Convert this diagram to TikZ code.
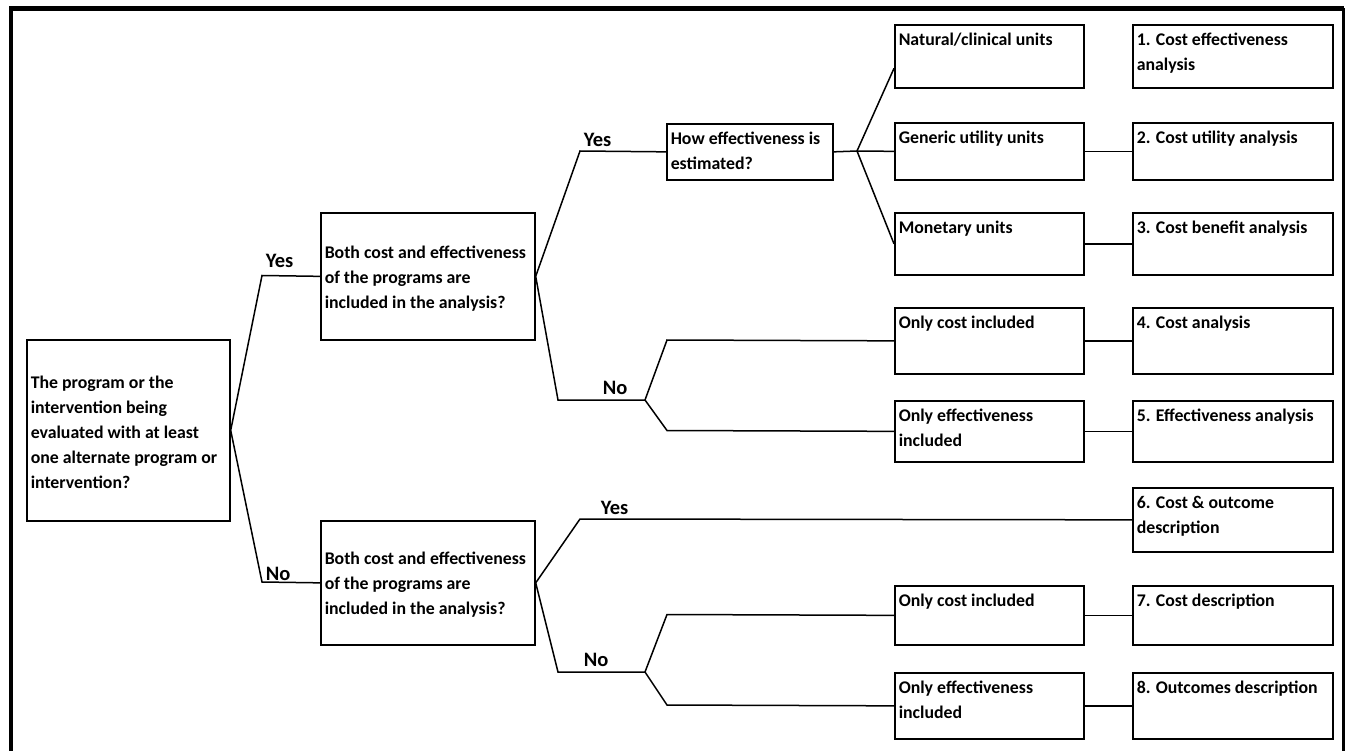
\documentclass[tikz,border=0pt]{standalone}
\usepackage{fontspec}
\setmainfont{Carlito}
\usetikzlibrary{positioning}

\begin{document}
\begin{tikzpicture}[x=1pt, y=-1pt, line width=1.5pt,
  box/.style={draw, rectangle, line width=1.7pt, anchor=north west, inner sep=0pt},
  txt/.style={anchor=north west, align=left, inner sep=0pt, font=\fontsize{17.8}{25}\selectfont\bfseries},
  lbl/.style={anchor=base west, inner sep=0pt, font=\fontsize{20.5}{22}\selectfont\bfseries}]

  \useasboundingbox (0,0) rectangle (1346,751);

	%frame
  \draw[line width=4.5pt] (10.8,751) -- (10.8,8.3) -- (1343.5,8.3);
  \draw[line width=3.5pt] (1343.5,8.3) -- (1343.5,751);

	%boxes, text on top
    \foreach \name/\x/\y/\w/\h/\txt in {How/666/123/166/56/{How effectiveness is\\estimated?},
        Nat/894/24/189/63/{Natural/clinical units}, Gen/894/122/189/57/{Generic utility units},
        Mon/894/212/189/62/{Monetary units}, OCa/894/307/189/66/{Only cost included},
        OEa/894/400/189/61/{Only effectiveness\\included}, OCb/894/585/189/59/{Only cost included},
        OEb/894/672/189/66/{Only effectiveness\\included},
        R1/1132/24/200/63/{1. Cost effectiveness\\analysis}, R2/1132/122/200/57/{2. Cost utility analysis},
        R3/1132/212/200/62/{3. Cost benefit analysis}, R4/1132/307/200/66/{4. Cost analysis},
        R5/1132/400/200/61/{5. Effectiveness analysis}, R6/1132/487/200/64/{6. Cost \& outcome\\description},
        R7/1132/585/200/59/{7. Cost description}, R8/1132/672/200/66/{8. Outcomes description}}{
        \node[box, minimum width=\w, minimum height=\h] (\name) at (\x,\y) {};
        \node[txt] (\name-t) at (\x+4,\y+8) {\txt};
    }

	%boxes, text in the middle
    \foreach \name/\x/\y/\w/\h/\txt in {root/26/339/203/181/{The program or the\\intervention being\\evaluated with at least\\one alternate program or\\intervention?},
        Ba/320/212/214/127/{Both cost and effectiveness\\of the programs are\\included in the analysis?},
        Bb/320/520/214/124/{Both cost and effectiveness\\of the programs are\\included in the analysis?}}{
        \node[box, minimum width=\w, minimum height=\h] (\name) at (\x,\y) {};
        \node[txt, anchor=west] (\name-t) at (\x+4,\y+\h/2+3) {\txt};
    }

	%bends
  \coordinate (yA) at (262,275.5);
  \coordinate (nA) at (262,582);
  \coordinate (yB) at (580,151);
  \coordinate (fA) at (857,151);
  \coordinate (nB) at (558,400);
  \coordinate (nBe) at (645,400);
  \coordinate (kOCa) at (667,340);
  \coordinate (kOEa) at (667,430.5);
  \coordinate (yC) at (580,519);
  \coordinate (nC) at (558,672);
  \coordinate (nCe) at (645,672);
  \coordinate (kOCb) at (667,614.5);
  \coordinate (kOEb) at (667,705);

	%connectors
  \draw (root.east) -- (yA) -- (Ba.west);
  \draw (root.east) -- (nA) -- (Bb.west);
  \draw (Ba.east) -- (yB) -- (How.west);
  \draw (How.east) -- (fA);
  \draw (fA) -- ([yshift=-12pt]Nat.west);
  \draw (fA) -- (Gen.west);
  \draw (fA) -- (Mon.west);
  \draw (Ba.east) -- (nB) -- (nBe);
  \draw (nBe) -- (kOCa) -- (OCa.west);
  \draw (nBe) -- (kOEa) -- (OEa.west);
  \draw (Bb.east) -- (yC) -- (R6.west);
  \draw (Bb.east) -- (nC) -- (nCe);
  \draw (nCe) -- (kOCb) -- (OCb.west);
  \draw (nCe) -- (kOEb) -- (OEb.west);
    \foreach \a/\b in {Gen/R2, Mon/R3, OCa/R4, OEa/R5, OCb/R7, OEb/R8}{
        \draw (\a.east) -- (\b.west);
    }

	%yes / no
  \node[lbl] (yesA) at (265,268) {Yes};
  \node[lbl] (noA) at (265,580) {No};
  \node[lbl] (yesB) at (583,147) {Yes};
  \node[lbl] (noB) at (602,394) {No};
  \node[lbl] (yesC) at (600,514) {Yes};
  \node[lbl] (noC) at (583,666) {No};

\end{tikzpicture}
\end{document}
